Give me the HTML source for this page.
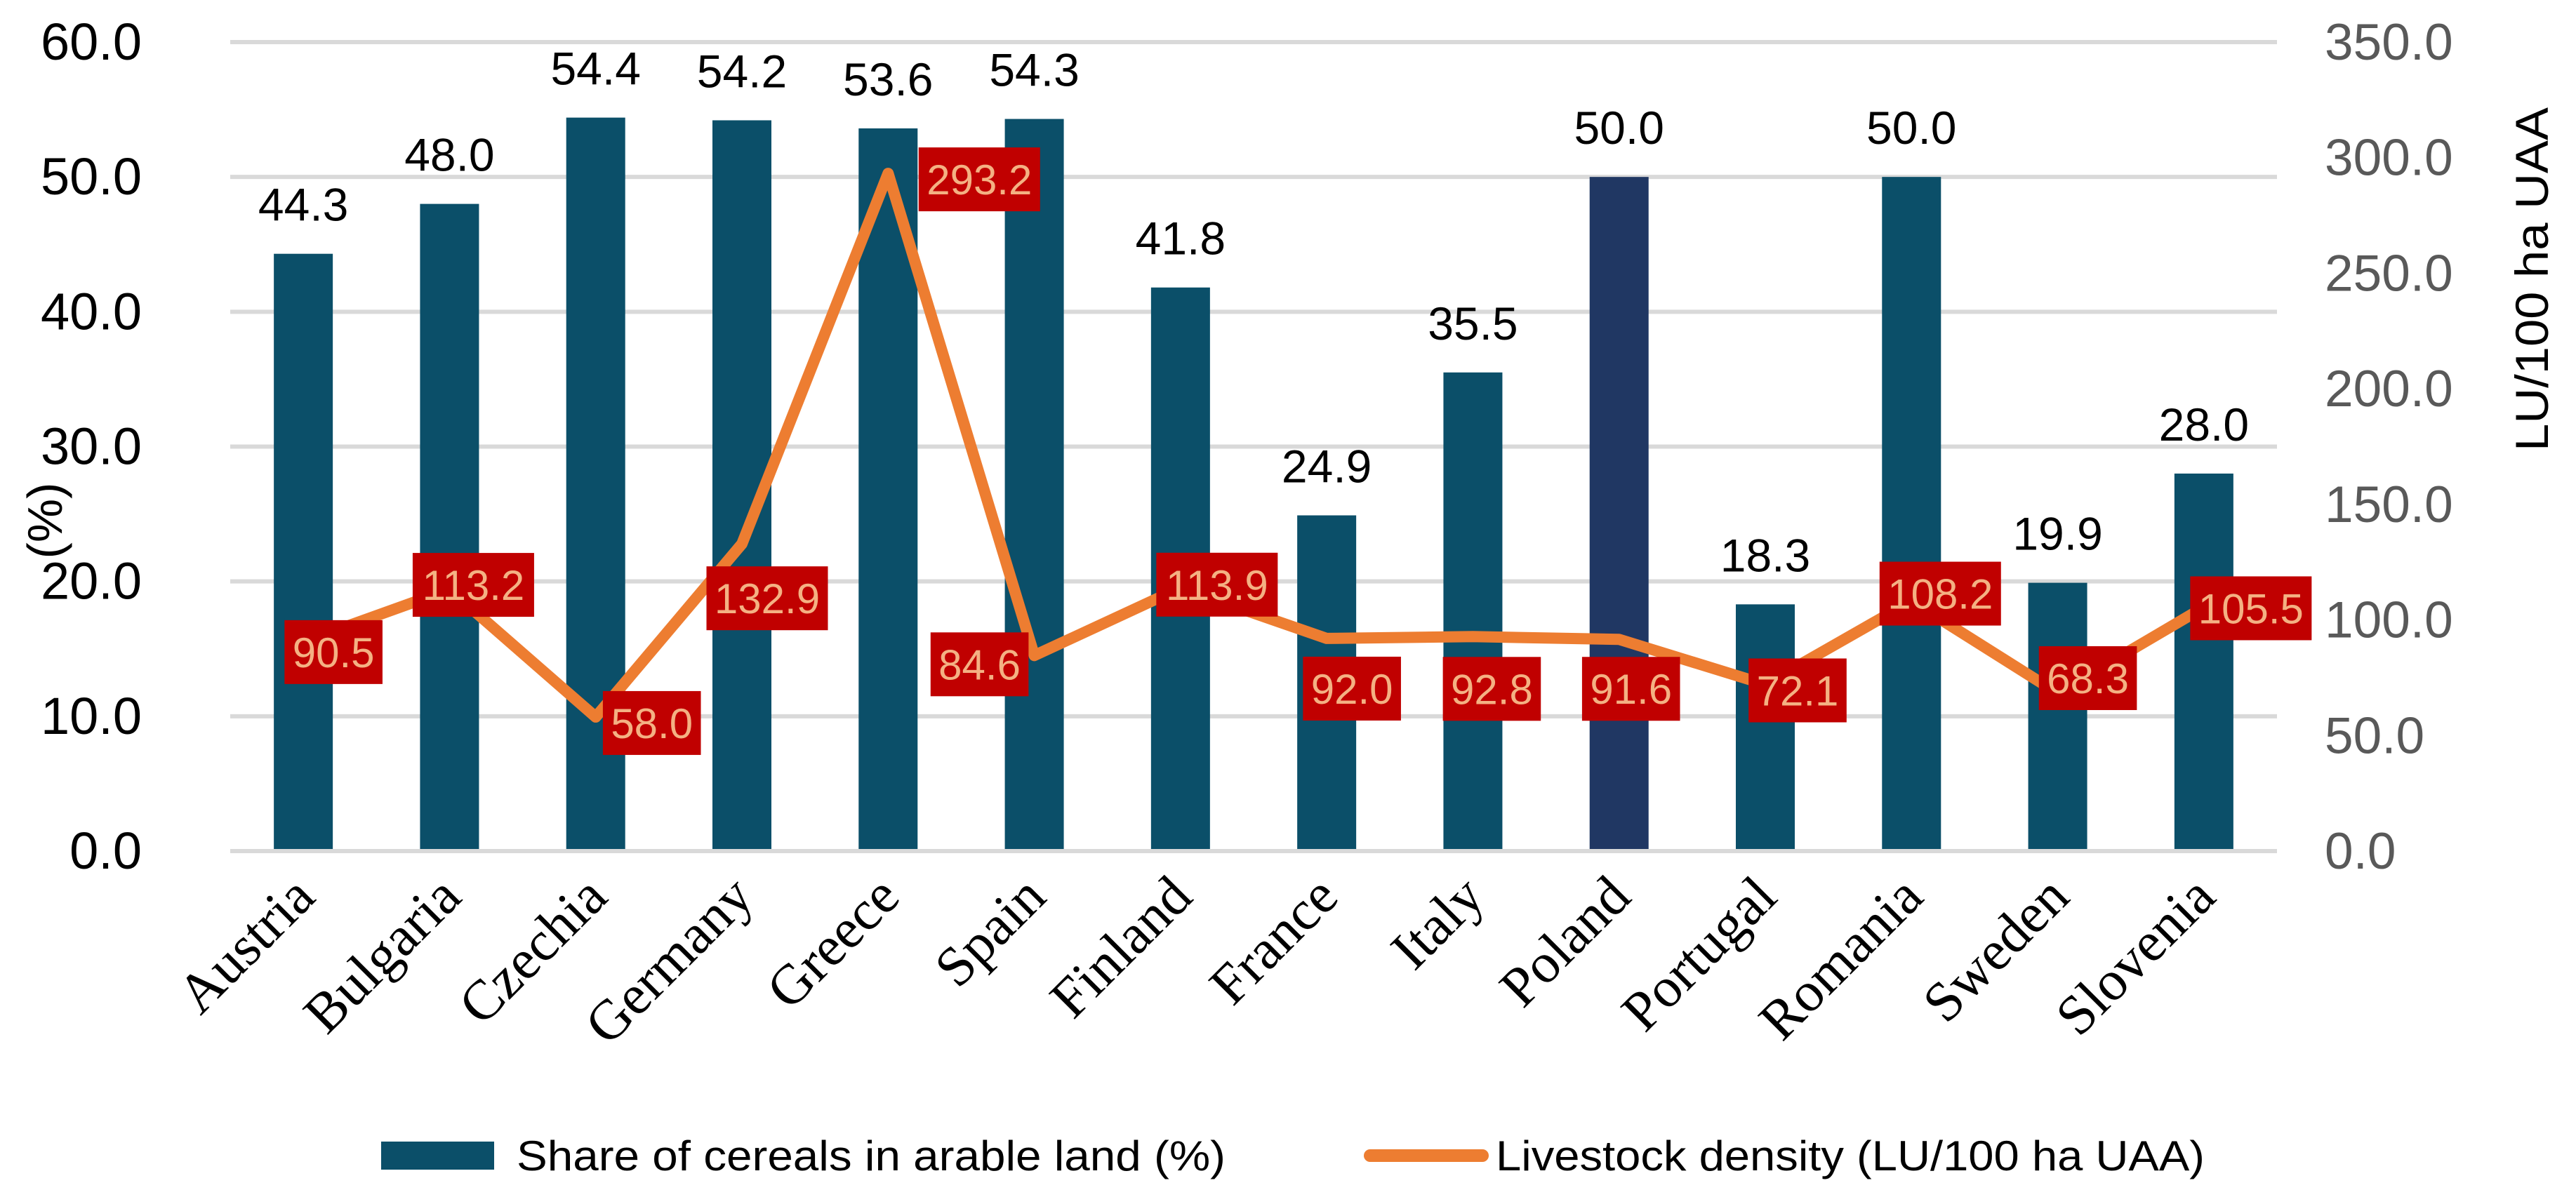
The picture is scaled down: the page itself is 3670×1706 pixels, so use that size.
<!DOCTYPE html>
<html><head><meta charset="utf-8"><style>
html,body{margin:0;padding:0;background:#fff;}
svg{display:block;}
text{font-family:"Liberation Sans",Arial,sans-serif;}
</style></head><body>
<svg id="chart" width="3670" height="1706" viewBox="0 0 3670 1706" xmlns="http://www.w3.org/2000/svg">
<g id="grid"></g>
<g id="bars"></g>
<g id="barlabels"></g>
<g id="line"></g>
<g id="linelabels"></g>
<g id="yleft"></g>
<g id="yright"></g>
<g id="xaxis"></g>
<text transform="translate(88,742) rotate(-90)" text-anchor="middle" font-size="70" fill="#000">(%)</text>
<text transform="translate(3630,398) rotate(-90)" text-anchor="middle" font-size="66" fill="#000" style="font-family:'Liberation Sans Narrow','Liberation Sans',sans-serif" textLength="490" lengthAdjust="spacingAndGlyphs">LU/100 ha UAA</text>
<g>
  <rect x="543" y="1627" width="161" height="40" fill="#0b4f69"/>
  <text x="736" y="1668" font-size="60" fill="#000" textLength="1010" lengthAdjust="spacingAndGlyphs">Share of cereals in arable land (%)</text>
  <line x1="1952" y1="1647" x2="2112" y2="1647" stroke="#ed7d31" stroke-width="18" stroke-linecap="round"/>
  <text x="2131" y="1668" font-size="60" fill="#000" textLength="1010" lengthAdjust="spacingAndGlyphs">Livestock density (LU/100 ha UAA)</text>
</g>
</svg>
<script>
const categories = ["Austria","Bulgaria","Czechia","Germany","Greece","Spain","Finland","France","Italy","Poland","Portugal","Romania","Sweden","Slovenia"];
const cerealShare = [44.3,48.0,54.4,54.2,53.6,54.3,41.8,24.9,35.5,50.0,18.3,50.0,19.9,28.0];
const livestockDensity = [90.5,113.2,58.0,132.9,293.2,84.6,113.9,92.0,92.8,91.6,72.1,108.2,68.3,105.5];
const leftTicks = [0,10,20,30,40,50,60];
const rightTicks = [0,50,100,150,200,250,300,350];
const highlightIndex = 9;
const labelOffsets = [[43,14],[34,-7],[80,8],[36,77],[130,8],[-78,12],[52,-5],[36,71],[27,74],[17,70],[46,8],[41,-11],[43,-22],[67,1]];

const NS = "http://www.w3.org/2000/svg";
const X0 = 328, X1 = 3244, Y0 = 1213, Ytop = 60;
const band = (X1 - X0) / categories.length;
const xC = i => X0 + band * (i + 0.5);
const yL = v => Y0 - (v / 60) * (Y0 - Ytop);
const yR = v => Y0 - (v / 350) * (Y0 - Ytop);
function mk(tag, attrs, parent, txt){
  const e = document.createElementNS(NS, tag);
  for (const k in attrs) e.setAttribute(k, attrs[k]);
  if (txt !== undefined) e.textContent = txt;
  parent.appendChild(e); return e;
}
const g = id => document.getElementById(id);

leftTicks.forEach(t => {
  const ln = mk("line",{x1:X0,x2:X1,y1:yL(t),y2:yL(t),stroke:"#d9d9d9","stroke-width":6}, g("grid"));
  
  
  const tx = mk("text",{x:202,y:yL(t)+25,"text-anchor":"end","font-size":74,fill:"#000"}, g("yleft"), t.toFixed(1));
  
  
});
rightTicks.forEach(t => {
  const tx = mk("text",{x:3312,y:yR(t)+25,"font-size":73,fill:"#595959"}, g("yright"), t.toFixed(1));
  
  
});
const bw = 84;
cerealShare.forEach((v,i) => {
  const r = mk("rect",{x:xC(i)-bw/2,y:yL(v),width:bw,height:Y0-yL(v)-3,fill:i===highlightIndex?"#203763":"#0b4f69"}, g("bars"));
  
  
  const t = mk("text",{x:xC(i),y:yL(v)-47,"text-anchor":"middle","font-size":66,fill:"#000"}, g("barlabels"), v.toFixed(1));
  
  
  const xl = mk("text",{transform:`translate(${xC(i)+20},1282) rotate(-45)`,"text-anchor":"end","font-size":80,fill:"#000",style:"font-family:'Liberation Serif',serif"}, g("xaxis"), categories[i]);
  
  
});
const pts = livestockDensity.map((v,i) => xC(i)+","+yR(v)).join(" ");
const pl = mk("polyline",{points:pts,fill:"none",stroke:"#ed7d31","stroke-width":16,"stroke-linejoin":"round","stroke-linecap":"round"}, g("line"));


livestockDensity.forEach((v,i) => {
  const s = v.toFixed(1);
  const w = s.length * 33.4 + 6;
  const cx = xC(i) + labelOffsets[i][0], cy = yR(v) + labelOffsets[i][1];
  const grp = mk("g",{}, g("linelabels"));
  
  
  mk("rect",{x:cx-w/2,y:cy-45,width:w,height:91,fill:"#c00000"}, grp);
  mk("text",{x:cx,y:cy+22,"text-anchor":"middle","font-size":60,fill:"#f4b183"}, grp, s);
});
</script>
</body></html>
